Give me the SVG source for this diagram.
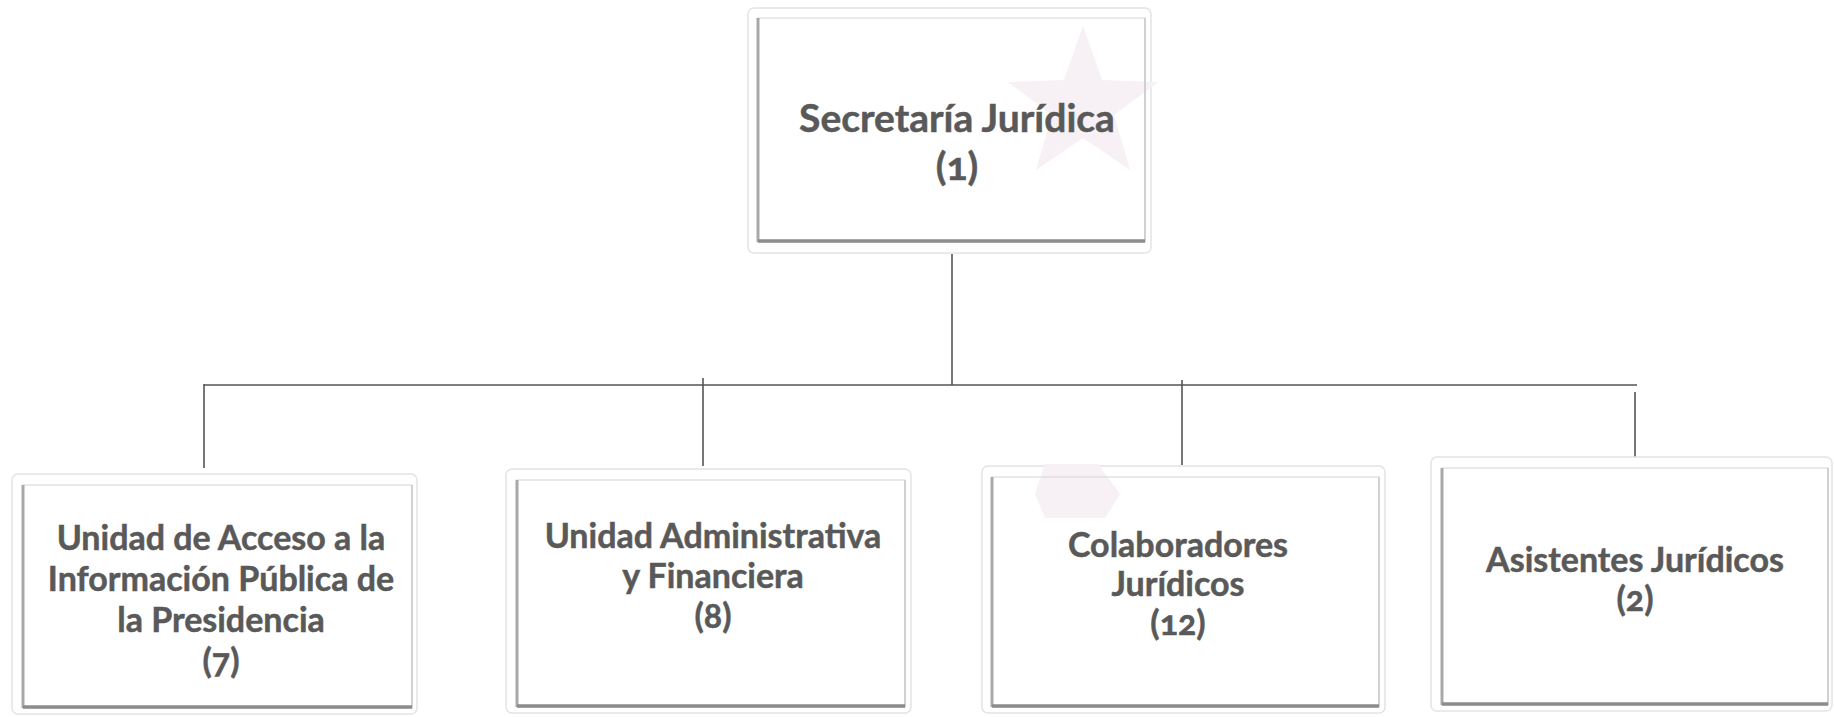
<svg xmlns="http://www.w3.org/2000/svg" width="1834" height="717" viewBox="0 0 1834 717">
<defs>
<style>
.frame{fill:#ffffff;stroke:#e4e4e4;stroke-width:1.5}
.inner{fill:none;stroke:#d6d6d6;stroke-width:1}
.ledge{stroke:#a8a8a8;stroke-width:3}
.bedge{stroke:#8c8c8c;stroke-width:3.5}
.redge{stroke:#c8c8c8;stroke-width:1.5}
.t{font-family:Lato,"Open Sans",sans-serif;font-weight:bold;font-size:34px;fill:#595959;stroke:#595959;stroke-width:0.5;text-anchor:middle;font-variant-numeric:oldstyle-nums}
.big{font-size:39px}
.conn{stroke:#555555;stroke-width:1.6;fill:none}
.wm{fill:#f7f0f5}
</style>
</defs>
<rect width="1834" height="717" fill="#ffffff"/>
<g id="connectors">
<line class="conn" x1="952" y1="254" x2="952" y2="385"/>
<line class="conn" x1="204" y1="385" x2="1637" y2="385"/>
<line class="conn" x1="204" y1="384" x2="204" y2="468"/>
<line class="conn" x1="703" y1="378" x2="703" y2="466"/>
<line class="conn" x1="1182" y1="380" x2="1182" y2="465"/>
<line class="conn" x1="1635" y1="392" x2="1635" y2="457"/>
</g>
<g id="node-secretaria">
<rect class="frame" x="748" y="8" width="403" height="245" rx="6"/>
<polygon class="wm" points="1083,26 1102,80 1158,82 1114,115 1130,170 1083,138 1036,170 1052,115 1008,82 1064,80"/>
<rect class="inner" x="758" y="18" width="387" height="224"/>
<line class="ledge" x1="758" y1="18" x2="758" y2="242"/>
<line class="redge" x1="1145" y1="18" x2="1145" y2="242"/>
<line class="bedge" x1="758" y1="241" x2="1145" y2="241"/>
<text class="t big" x="957" y="132">Secretaría Jurídica</text>
<text class="t big" x="957" y="180">(1)</text>
</g>
<g id="node-unidad-acceso">
<rect class="frame" x="12" y="474" width="405" height="240" rx="6"/>
<rect class="inner" x="23" y="485" width="389" height="223"/>
<line class="ledge" x1="23" y1="485" x2="23" y2="708"/>
<line class="redge" x1="412" y1="485" x2="412" y2="708"/>
<line class="bedge" x1="23" y1="707" x2="412" y2="707"/>
<text class="t" x="221" y="550">Unidad de Acceso a la</text>
<text class="t" x="221" y="591">Información Pública de</text>
<text class="t" x="221" y="632">la Presidencia</text>
<text class="t" x="221" y="673">(7)</text>
</g>
<g id="node-unidad-admin">
<rect class="frame" x="506" y="469" width="405" height="244" rx="6"/>
<rect class="inner" x="517" y="480" width="388" height="227"/>
<line class="ledge" x1="517" y1="480" x2="517" y2="707"/>
<line class="redge" x1="905" y1="480" x2="905" y2="707"/>
<line class="bedge" x1="517" y1="706" x2="905" y2="706"/>
<text class="t" x="713" y="548">Unidad Administrativa</text>
<text class="t" x="713" y="588">y Financiera</text>
<text class="t" x="713" y="628">(8)</text>
</g>
<g id="node-colaboradores">
<rect class="frame" x="982" y="466" width="403" height="247" rx="6"/>
<polygon class="wm" points="1045,464 1098,464 1120,494 1105,518 1045,518 1035,494"/>
<rect class="inner" x="992" y="477" width="387" height="230"/>
<line class="ledge" x1="992" y1="477" x2="992" y2="707"/>
<line class="redge" x1="1379" y1="477" x2="1379" y2="707"/>
<line class="bedge" x1="992" y1="706" x2="1379" y2="706"/>
<text class="t" x="1178" y="557">Colaboradores</text>
<text class="t" x="1178" y="596">Jurídicos</text>
<text class="t" x="1178" y="635">(12)</text>
</g>
<g id="node-asistentes">
<rect class="frame" x="1431" y="457" width="401" height="254" rx="6"/>
<rect class="inner" x="1442" y="468" width="386" height="237"/>
<line class="ledge" x1="1442" y1="468" x2="1442" y2="705"/>
<line class="redge" x1="1828" y1="468" x2="1828" y2="705"/>
<line class="bedge" x1="1442" y1="704" x2="1828" y2="704"/>
<text class="t" x="1635" y="572">Asistentes Jurídicos</text>
<text class="t" x="1635" y="611">(2)</text>
</g>
</svg>
